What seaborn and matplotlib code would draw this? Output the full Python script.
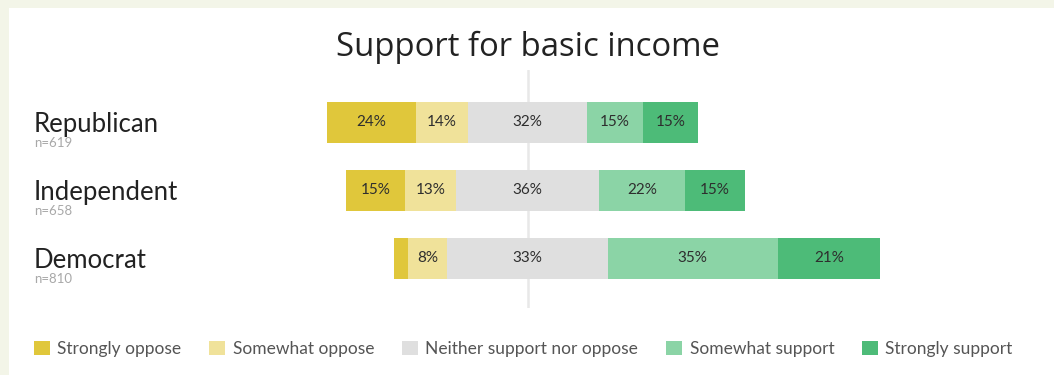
import numpy as np
import pandas as pd
import matplotlib
matplotlib.use("Agg")
import matplotlib.pyplot as plt
import matplotlib.transforms as mtransforms
from matplotlib.patches import Patch, Rectangle
import seaborn as sns

# Survey shares (%) by party, plus number of respondents per party
parties = ["Republican", "Independent", "Democrat"]
respondents = [619, 658, 810]
responses = ["Strongly oppose", "Somewhat oppose", "Neither support nor oppose",
             "Somewhat support", "Strongly support"]
strongly_oppose = [24, 15, 3]
somewhat_oppose = [14, 13, 8]
neither = [32, 36, 33]
somewhat_support = [15, 22, 35]
strongly_support = [15, 15, 21]
colors = ["#E0C73B", "#F0E29A", "#DFDFDF", "#8BD4A6", "#4DBB78"]

sns.set_theme(style="white")
plt.rcParams["font.family"] = ["Lato", "DejaVu Sans"]

df = pd.DataFrame({
    "party": parties,
    "n": respondents,
    "so": strongly_oppose,
    "wo": somewhat_oppose,
    "ne": neither,
    "ws": somewhat_support,
    "ss": strongly_support,
})

# Bar lengths are respondent counts, so wider bars mean bigger samples
for col in ["so", "wo", "ne", "ws", "ss"]:
    df[col + "_cnt"] = df[col] * df["n"] / 100.0

half = df["ne_cnt"] / 2
df["left_so"] = -(half + df["wo_cnt"] + df["so_cnt"])
df["left_wo"] = -(half + df["wo_cnt"])
df["left_ne"] = -half
df["right_ne"] = half
df["right_ws"] = half + df["ws_cnt"]
df["right_ss"] = half + df["ws_cnt"] + df["ss_cnt"]

W, H = 1054, 375
fig = plt.figure(figsize=(W / 100, H / 100), dpi=100, facecolor="#F3F5E8")
fig.patches.append(Rectangle((9 / W, 0), 1 - 9 / W, 1 - 8 / H,
                             transform=fig.transFigure, facecolor="white",
                             edgecolor="none", zorder=-5))

ax = fig.add_axes([0, (H - 308) / H, 1, 238 / H])
ax.set_facecolor("none")
ax.set_zorder(1)

# Diverging stack: outer segments first, inner ones drawn over them
layers = [
    ("left_so", colors[0]), ("left_wo", colors[1]), ("left_ne", colors[2]),
    ("right_ss", colors[4]), ("right_ws", colors[3]), ("right_ne", colors[2]),
]
for col, c in layers:
    sns.barplot(data=df, x=col, y="party", order=parties, orient="h",
                color=c, saturation=1, width=0.6, errorbar=None,
                linewidth=0, ax=ax, zorder=2)

ax.axvline(0, color="#E8E8E8", lw=1.8, zorder=1)

px_per_count = 0.6
ax.set_xlim(-527.5 / px_per_count, (W - 527.5) / px_per_count)
ax.set_ylim(2.728, -0.772)
ax.set_axis_off()

# Percentage labels at segment centres
for i, r in df.iterrows():
    centers = [
        (r["left_so"] + r["left_wo"]) / 2,
        (r["left_wo"] + r["left_ne"]) / 2,
        0.0,
        (r["right_ne"] + r["right_ws"]) / 2,
        (r["right_ws"] + r["right_ss"]) / 2,
    ]
    values = [r["so"], r["wo"], r["ne"], r["ws"], r["ss"]]
    for xc, v in zip(centers, values):
        if v >= 5:
            ax.text(xc, i, f"{int(v)}%", ha="center", va="center",
                    fontsize=11, color="#2E2E2E", zorder=3)

# Party names with sample sizes on the left
trans = mtransforms.blended_transform_factory(fig.transFigure, ax.transData)
for i, (p, n) in enumerate(zip(parties, respondents)):
    ax.text(34 / W, i + 0.14, p, transform=trans, ha="left", va="baseline",
            fontsize=18.5, color="#222222")
    ax.text(34.5 / W, i + 0.36, f"n={n}", transform=trans, ha="left",
            va="baseline", fontsize=9.5, color="#A8A8A8")

fig.text(527.5 / W, 1 - 56 / H, "Support for basic income", ha="center",
         va="baseline", fontsize=23.7, color="#222222",
         family=["Open Sans", "DejaVu Sans"])

handles = [Patch(facecolor=c, edgecolor="none", label=lab)
           for c, lab in zip(colors, responses)]
fig.legend(handles=handles, loc="center left",
           bbox_to_anchor=(34 / W, 1 - 349 / H), ncol=5, frameon=False,
           fontsize=12.5, labelcolor="#555555", handlelength=0.9,
           handleheight=0.9, handletextpad=0.45, columnspacing=1.6,
           borderpad=0, borderaxespad=0)

fig.savefig("out.png", dpi=100, facecolor=fig.get_facecolor())
